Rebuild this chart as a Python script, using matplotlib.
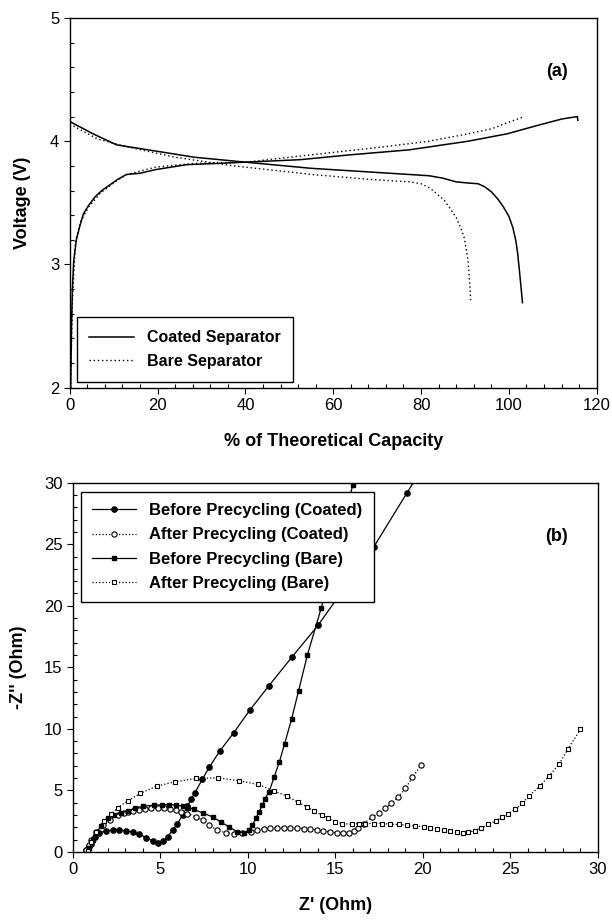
import numpy as np
import matplotlib
matplotlib.use('Agg')
import matplotlib.pyplot as plt
from matplotlib.ticker import MultipleLocator

plt.rcParams['font.family'] = ['Liberation Sans', 'DejaVu Sans']

# ---- panel (a): charge / discharge curves
coat_chg_x = [0.2, 0.4, 0.6, 0.9, 1.5, 2.2, 3.1, 4.3, 5.8, 7.3, 8.9, 10.9, 12.9, 16.0, 19.6, 26.7,
              33.8, 40.0, 52.4, 64.0, 77.3, 90.7, 99.6, 106.7, 112.0, 115.6, 115.7]
coat_chg_v = [2.0, 2.5, 2.8, 3.03, 3.2, 3.3, 3.41, 3.48, 3.55, 3.60, 3.64, 3.69, 3.73, 3.74, 3.77, 3.81,
              3.82, 3.83, 3.85, 3.89, 3.93, 4.0, 4.06, 4.13, 4.18, 4.20, 4.17]
coat_dis_x = [0.0, 5.3, 10.7, 19.6, 28.4, 40.0, 55.0, 72.9, 81.8, 85.0, 88.0, 91.0, 93.0, 94.5, 96.0,
              97.5, 98.7, 100.0, 100.9, 101.6, 102.0, 102.4, 102.7, 103.1]
coat_dis_v = [4.16, 4.06, 3.97, 3.92, 3.87, 3.83, 3.78, 3.74, 3.72, 3.70, 3.67, 3.66, 3.655, 3.63, 3.59,
              3.53, 3.47, 3.39, 3.30, 3.19, 3.09, 2.95, 2.84, 2.69]
bare_chg_x = [0.2, 0.6, 1.3, 2.5, 4.4, 7.0, 10.7, 13.0, 19.6, 28.4, 40.0, 55.1, 72.9, 81.8, 90.7,
              96.0, 99.6, 103.6]
bare_chg_v = [2.0, 2.7, 3.19, 3.35, 3.47, 3.58, 3.68, 3.73, 3.79, 3.82, 3.83, 3.89, 3.96, 4.0, 4.06,
              4.10, 4.15, 4.20]
bare_dis_x = [0.0, 6.2, 12.4, 24.0, 37.3, 55.1, 68.4, 77.3, 80.0, 82.0, 83.7, 85.3, 86.7, 88.0, 89.0,
              89.8, 90.3, 90.7, 91.1, 91.3]
bare_dis_v = [4.14, 4.02, 3.96, 3.87, 3.80, 3.73, 3.69, 3.67, 3.655, 3.62, 3.57, 3.52, 3.45, 3.38, 3.30,
              3.22, 3.12, 3.03, 2.84, 2.71]

# ---- panel (b): impedance spectra
bc_x = [0.78, 0.95, 1.05, 1.24, 1.52, 1.9, 2.28, 2.66, 3.04, 3.42, 3.8, 4.18, 4.56, 4.84, 5.13, 5.41,
        5.7, 5.98, 6.27, 6.55, 6.78, 6.97, 7.4, 7.8, 8.4, 9.2, 10.1, 11.2, 12.5, 14.0, 15.6, 17.2,
        19.1, 21.0]
bc_y = [0.14, 0.5, 0.68, 1.22, 1.55, 1.71, 1.77, 1.77, 1.71, 1.63, 1.44, 1.17, 0.9, 0.76, 0.87, 1.22,
        1.77, 2.31, 2.99, 3.72, 4.34, 4.8, 5.9, 6.9, 8.2, 9.7, 11.5, 13.5, 15.8, 18.4, 21.6, 24.8,
        29.2, 33.5]
ac_x = [0.76, 0.9, 1.05, 1.3, 1.71, 2.1, 2.56, 2.9, 3.13, 3.45, 3.8, 4.1, 4.47, 4.85, 5.22, 5.55,
        5.89, 6.2, 6.55, 7.03, 7.41, 7.79, 8.26, 8.74, 9.21, 9.69, 10.16, 10.54, 10.9, 11.28, 11.66,
        12.04, 12.42, 12.8, 13.18, 13.56, 13.94, 14.32, 14.7, 15.08, 15.46, 15.8, 16.05, 16.3,
        16.62, 17.1, 17.5, 17.85, 18.2, 18.6, 19.0, 19.4, 19.9]
ac_y = [0.14, 0.55, 0.95, 1.6, 2.17, 2.6, 2.98, 3.15, 3.26, 3.33, 3.39, 3.45, 3.53, 3.55, 3.53, 3.48,
        3.39, 3.27, 3.12, 2.85, 2.58, 2.17, 1.77, 1.55, 1.44, 1.5, 1.63, 1.82, 1.88, 1.92, 1.94,
        1.94, 1.93, 1.92, 1.9, 1.86, 1.8, 1.72, 1.63, 1.55, 1.5, 1.55, 1.7, 1.95,
        2.31, 2.85, 3.17, 3.53, 3.94, 4.48, 5.16, 6.05, 7.06]
bb_x = [0.88, 0.95, 1.14, 1.35, 1.6, 2.0, 2.38, 2.76, 3.13, 3.55, 3.99, 4.66, 5.1, 5.51, 5.9, 6.27,
        6.6, 6.93, 7.41, 7.98, 8.45, 8.93, 9.4, 9.78, 10.07, 10.26, 10.45, 10.64, 10.83, 10.98,
        11.21, 11.5, 11.8, 12.1, 12.5, 12.9, 13.4, 14.2, 16.0, 17.0]
bb_y = [0.05, 0.28, 0.95, 1.5, 2.1, 2.72, 2.99, 3.17, 3.34, 3.55, 3.72, 3.8, 3.83, 3.85, 3.8, 3.72,
        3.6, 3.45, 3.17, 2.85, 2.44, 2.03, 1.63, 1.55, 1.77, 2.17, 2.72, 3.26, 3.8, 4.34,
        4.88, 6.08, 7.3, 8.8, 10.8, 13.1, 16.0, 19.85, 29.85, 36.0]
ab_x = [0.86, 1.05, 1.33, 1.8, 2.19, 2.56, 3.13, 3.84, 4.79, 5.85, 7.03, 8.32, 9.5, 10.6, 11.5,
        12.25, 12.88, 13.39, 13.77, 14.25, 14.6, 15.0, 15.4, 15.95, 16.34, 16.72, 17.19, 17.66,
        18.14, 18.62, 19.09, 19.57, 20.04, 20.42, 20.8, 21.18, 21.56, 21.94, 22.32, 22.6, 22.95,
        23.33, 23.74, 24.16, 24.5, 24.88, 25.26, 25.68, 26.06, 26.69, 27.2, 27.79, 28.29, 29.0]
ab_y = [0.05, 0.8, 1.63, 2.5, 3.07, 3.58, 4.15, 4.75, 5.35, 5.7, 5.97, 6.02, 5.78, 5.48, 4.94,
        4.53, 4.02, 3.66, 3.31, 2.99, 2.72, 2.44, 2.31, 2.25, 2.31, 2.31, 2.31, 2.31,
        2.25, 2.23, 2.17, 2.12, 2.04, 1.96, 1.87, 1.77, 1.68, 1.6, 1.55, 1.58, 1.74,
        1.96, 2.23, 2.52, 2.8, 3.12, 3.45, 3.94, 4.56, 5.35, 6.16, 7.14, 8.38, 9.95]

fig = plt.figure(figsize=(6.12, 9.23), dpi=100)
ax1 = fig.add_axes([0.114, 0.580, 0.861, 0.4005])
ax2 = fig.add_axes([0.119, 0.077, 0.858, 0.400])

# panel a
ax1.plot(coat_chg_x, coat_chg_v, color='black', lw=1.1, label='Coated Separator')
ax1.plot(coat_dis_x, coat_dis_v, color='black', lw=1.1)
ax1.plot(bare_chg_x, bare_chg_v, color='black', lw=1.0, ls=(0, (1, 2)), label='Bare Separator')
ax1.plot(bare_dis_x, bare_dis_v, color='black', lw=1.0, ls=(0, (1, 2)))
ax1.set_xlim(0, 120)
ax1.set_ylim(2, 5)
ax1.xaxis.set_major_locator(MultipleLocator(20))
ax1.xaxis.set_minor_locator(MultipleLocator(4))
ax1.yaxis.set_major_locator(MultipleLocator(1))
ax1.yaxis.set_minor_locator(MultipleLocator(0.2))
ax1.set_xlabel('% of Theoretical Capacity', fontsize=13, fontweight='bold', labelpad=14)
ax1.set_ylabel('Voltage (V)', fontsize=13, fontweight='bold', labelpad=14)
ax1.text(0.925, 0.855, '(a)', transform=ax1.transAxes, fontsize=13, fontweight='bold',
         ha='center', va='center')
leg1 = ax1.legend(loc='lower left', bbox_to_anchor=(0.013, 0.016), borderaxespad=0,
                  fancybox=False, edgecolor='black', framealpha=1, handlelength=2.8,
                  borderpad=0.8, labelspacing=0.55, prop={'weight': 'bold', 'size': 11.5})
leg1.get_frame().set_linewidth(1.0)

# panel b
ax2.plot(bc_x, bc_y, color='black', lw=0.9, marker='o', ms=3.8, mfc='black', mec='black',
         label='Before Precycling (Coated)')
ax2.plot(ac_x, ac_y, color='black', lw=0.9, ls=':', marker='o', ms=3.8, mfc='white', mec='black',
         mew=0.8, label='After Precycling (Coated)')
ax2.plot(bb_x, bb_y, color='black', lw=0.9, marker='s', ms=3.4, mfc='black', mec='black',
         label='Before Precycling (Bare)')
ax2.plot(ab_x, ab_y, color='black', lw=0.9, ls=':', marker='s', ms=3.4, mfc='white', mec='black',
         mew=0.8, label='After Precycling (Bare)')
ax2.set_xlim(0, 30)
ax2.set_ylim(0, 30)
ax2.xaxis.set_major_locator(MultipleLocator(5))
ax2.xaxis.set_minor_locator(MultipleLocator(1))
ax2.yaxis.set_major_locator(MultipleLocator(5))
ax2.yaxis.set_minor_locator(MultipleLocator(1))
ax2.set_xlabel("Z' (Ohm)", fontsize=13, fontweight='bold', labelpad=14)
ax2.set_ylabel("-Z'' (Ohm)", fontsize=13, fontweight='bold', labelpad=12)
ax2.text(0.922, 0.855, '(b)', transform=ax2.transAxes, fontsize=13, fontweight='bold',
         ha='center', va='center')
leg2 = ax2.legend(loc='upper left', bbox_to_anchor=(0.0147, 0.976), borderaxespad=0,
                  fancybox=False, edgecolor='black', framealpha=1, handlelength=2.6,
                  borderpad=0.7, labelspacing=0.55, prop={'weight': 'bold', 'size': 12})
leg2.get_frame().set_linewidth(1.0)

for ax in (ax1, ax2):
    ax.tick_params(which='major', direction='out', length=4, width=0.8, labelsize=12,
                   top=False, right=False)
    ax.tick_params(which='minor', direction='in', length=3, width=0.8, top=False, right=False)
    for s in ax.spines.values():
        s.set_linewidth(1.0)

fig.savefig('out.png', dpi=100)
